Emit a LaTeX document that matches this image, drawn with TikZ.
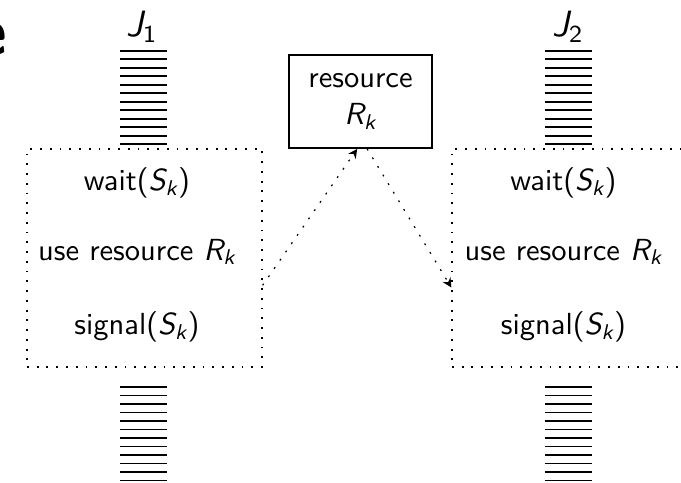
\documentclass[tikz,border=0pt]{standalone}
\usepackage{amsmath}
\usetikzlibrary{arrows.meta,positioning}

% sans italic variables
\newcommand{\sv}[2]{$\textit{#1}_{\textit{#2}}$}

\begin{document}
\begin{tikzpicture}[
    x=0.328pt, y=-0.328pt,
    every node/.style={font=\sffamily},
    jobbox/.style={rectangle, draw, dash pattern=on 0.6pt off 2.6pt, minimum width=77.1pt, minimum height=71.5pt, inner sep=0pt},
    resbox/.style={rectangle, draw, line width=0.6pt, minimum width=46.9pt, minimum height=30.5pt, align=center},
    joblabel/.style={font=\sffamily\large},
    queue/.style={line width=0.65pt},
    access/.style={-{Stealth[length=3pt,width=3pt]}, dash pattern=on 0.6pt off 2.7pt}
]
\useasboundingbox (0,0) rectangle (681,482);

% cut-off title letter
\node[anchor=east, inner sep=0pt, font=\sffamily\bfseries\fontsize{23}{27}\selectfont] (title) at (8,39) {e};

% Jobs
\node[jobbox] (leftjob) at (144.5,258) {};
\node[jobbox] (rightjob) at (569.5,258) {};

\node (waitL) at (137,183) {wait(\sv{S}{k})};
\node (useL) at (137,252) {use resource \sv{R}{k}};
\node (signalL) at (137,327) {signal(\sv{S}{k})};

\node (waitR) at (563.5,183) {wait(\sv{S}{k})};
\node (useR) at (563.5,252) {use resource \sv{R}{k}};
\node (signalR) at (563.5,327) {signal(\sv{S}{k})};

% Shared resource
\node[resbox] (resource) at (360.5,101.5) {resource\\\sv{R}{k}};

% Job labels
\node[joblabel] (J1) at (142,27) {$\textit{J}_{\text{1}}$};
\node[joblabel] (J2) at (568,27) {$\textit{J}_{\text{2}}$};

% Queues above and below
\foreach \x in {120,545} {
  \foreach \i in {0,...,11} {
    \draw[queue] (\x,50.7+8.5*\i) -- ++(47.5,0);
    \draw[queue] (\x,387+8.5*\i) -- ++(47.5,0);
  }
}

% Access to the resource
\draw[access] (leftjob.-13) -- (resource.-94);
\draw[access] (resource.-82) -- (rightjob.-166);

\end{tikzpicture}
\end{document}
